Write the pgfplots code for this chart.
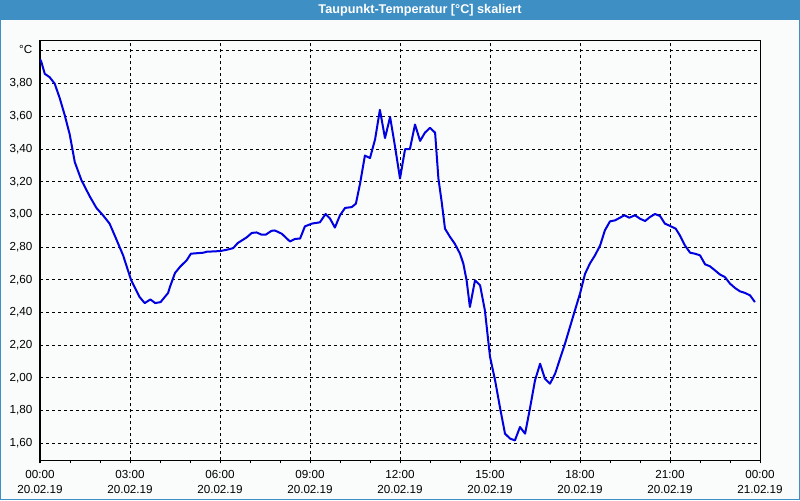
\documentclass[border=0pt]{standalone}
\usepackage{pgfplots}
\pgfplotsset{compat=1.18}
\usepackage{fontspec}
\setmainfont{Liberation Sans}
\definecolor{barblue}{RGB}{61,143,196}
\definecolor{bgc}{RGB}{250,252,251}
\definecolor{lineblue}{RGB}{0,0,225}
\begin{document}
\begin{tikzpicture}
\fill[barblue] (0,0) rectangle (600pt,375pt);
\fill[bgc] (0.75pt,0.75pt) rectangle (599.25pt,360pt);
\node[text=white,font=\fontsize{9.5}{11}\selectfont\bfseries] at (315pt,367.5pt) {Taupunkt-Temperatur [°C] skaliert};
\begin{axis}[
  at={(30pt,30pt)}, anchor=south west,
  width=540pt, height=315pt, scale only axis,
  xmin=0, xmax=24, ymin=1.496, ymax=4.065,
  axis line style={black, line width=0.75pt},
  xtick={0,3,...,24},
  minor xtick={1,2,4,5,7,8,10,11,13,14,16,17,19,20,22,23},
  xticklabels={{00:00\\20.02.19},{03:00\\20.02.19},{06:00\\20.02.19},{09:00\\20.02.19},{12:00\\20.02.19},{15:00\\20.02.19},{18:00\\20.02.19},{21:00\\20.02.19},{00:00\\21.02.19}},
  xticklabel style={align=center, font=\fontsize{8.75}{11.25}\selectfont, yshift=-2pt},
  ytick={1.6,1.8,2.0,2.2,2.4,2.6,2.8,3.0,3.2,3.4,3.6,3.8,4.0},
  yticklabels={1{,}60,1{,}80,2{,}00,2{,}20,2{,}40,2{,}60,2{,}80,3{,}00,3{,}20,3{,}40,3{,}60,3{,}80,\raisebox{3pt}{°C}},
  yticklabel style={font=\fontsize{8.75}{10}\selectfont},
  xtick pos=bottom, ytick pos=left,
  tick align=outside,
  major tick length=2.25pt, minor tick length=2.25pt,
  every tick/.style={black, line width=0.75pt},
  ytick style={draw=none},
  xmajorgrids, ymajorgrids,
  major grid style={black, line width=0.75pt, dash pattern=on 2.25pt off 2.25pt},
]
\addplot[lineblue, line width=1.5pt, line join=round] table {
x y
0.00 3.95
0.04 3.936
0.16 3.86
0.32 3.84
0.49 3.80
0.66 3.71
0.82 3.61
0.99 3.49
1.16 3.32
1.38 3.21
1.66 3.11
1.88 3.04
2.10 2.995
2.32 2.944
2.54 2.85
2.77 2.75
3.04 2.597
3.32 2.495
3.49 2.458
3.68 2.48
3.84 2.458
4.02 2.464
4.27 2.52
4.33 2.556
4.50 2.642
4.67 2.68
4.89 2.72
5.03 2.76
5.44 2.766
5.56 2.772
6.00 2.776
6.22 2.784
6.44 2.794
6.59 2.825
6.72 2.84
6.89 2.86
7.06 2.887
7.22 2.89
7.39 2.876
7.52 2.876
7.72 2.90
7.83 2.902
8.06 2.882
8.33 2.835
8.50 2.85
8.67 2.853
8.83 2.927
9.06 2.944
9.33 2.952
9.52 3.003
9.67 2.974
9.83 2.92
10.00 2.995
10.17 3.04
10.39 3.045
10.53 3.066
10.67 3.19
10.83 3.36
11.00 3.345
11.17 3.46
11.33 3.64
11.50 3.467
11.67 3.596
11.83 3.42
12.00 3.22
12.17 3.40
12.33 3.40
12.50 3.55
12.67 3.45
12.83 3.50
13.00 3.53
13.17 3.50
13.28 3.22
13.39 3.076
13.50 2.913
13.67 2.862
13.83 2.82
14.00 2.76
14.11 2.70
14.22 2.597
14.33 2.434
14.50 2.597
14.67 2.566
14.83 2.413
15.00 2.13
15.17 1.985
15.33 1.822
15.50 1.659
15.67 1.629
15.83 1.618
16.00 1.70
16.17 1.659
16.33 1.812
16.50 1.985
16.67 2.087
16.83 1.996
17.00 1.965
17.17 2.026
17.50 2.21
17.83 2.413
18.00 2.516
18.17 2.638
18.33 2.70
18.50 2.75
18.67 2.81
18.83 2.903
19.00 2.958
19.17 2.964
19.33 2.98
19.48 2.995
19.64 2.98
19.83 2.995
20.00 2.974
20.17 2.96
20.33 2.984
20.50 3.003
20.67 2.99
20.83 2.944
21.00 2.93
21.19 2.913
21.33 2.872
21.50 2.81
21.67 2.766
21.83 2.76
22.00 2.75
22.17 2.695
22.33 2.683
22.50 2.658
22.67 2.632
22.83 2.617
23.00 2.577
23.17 2.55
23.33 2.53
23.50 2.52
23.67 2.505
23.83 2.464
};
\end{axis}
\end{tikzpicture}
\end{document}
